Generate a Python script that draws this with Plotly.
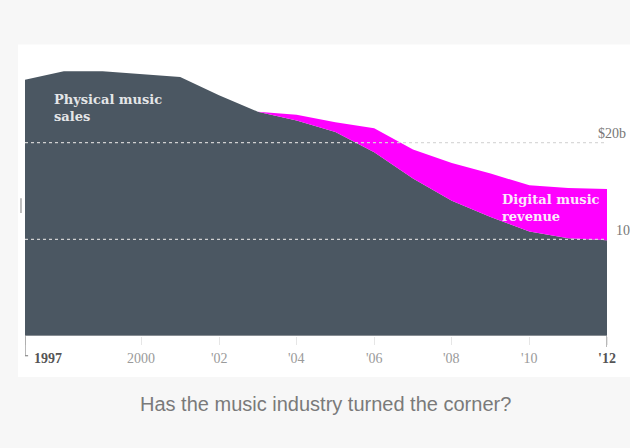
import plotly.graph_objects as go

# ---- data ($bn) ----
years = [1997, 1998, 1999, 2000, 2001, 2002, 2003, 2004, 2005, 2006, 2007, 2008, 2009, 2010, 2011, 2012]
physical = [26.5, 27.4, 27.4, 27.1, 26.8, 24.9, 23.2, 22.3, 21.1, 19.0, 16.3, 14.0, 12.3, 10.8, 10.1, 9.9]
digital_years = [2003, 2004, 2005, 2006, 2007, 2008, 2009, 2010, 2011, 2012]
digital = [0.0, 0.6, 1.0, 2.5, 3.0, 3.9, 4.5, 4.8, 5.2, 5.3]

tick_years = [1997, 2000, 2002, 2004, 2006, 2008, 2010, 2012]
tick_labels = ["1997", "2000", "'02", "'04", "'06", "'08", "'10", "'12"]
grid_values = [10, 20]
grid_labels = ["10", "$20b"]

GRAY = "#4b5762"
MAGENTA = "#ff00ff"
SERIF = "DejaVu Serif"

fig = go.Figure()
fig.add_trace(go.Scatter(
    x=years, y=physical, stackgroup="music", mode="lines",
    line=dict(width=0, color=GRAY), fillcolor=GRAY, hoverinfo="skip",
    name="Physical music sales"))
fig.add_trace(go.Scatter(
    x=digital_years, y=digital, stackgroup="music", mode="lines",
    line=dict(width=0, color=MAGENTA), fillcolor=MAGENTA, hoverinfo="skip",
    name="Digital music revenue"))

shapes = []
# white panel behind the chart
shapes.append(dict(type="rect", xref="paper", yref="paper",
                   x0=-0.012, x1=1.06, y0=-0.141, y1=1.005,
                   fillcolor="white", line=dict(width=0), layer="below"))
# small stray mark at the left edge of the panel
shapes.append(dict(type="line", xref="paper", yref="paper", x0=-0.0069, x1=-0.0069,
                   y0=0.424, y1=0.475, line=dict(color="#a9a9a9", width=1.5), layer="above"))
# dotted gridlines above the areas
for g in grid_values:
    shapes.append(dict(type="line", xref="x", yref="y", x0=years[0], x1=years[-1],
                       y0=g, y1=g, line=dict(color="rgba(215,215,215,0.95)", width=1.2, dash="dot"),
                       layer="above"))
# baseline
shapes.append(dict(type="line", xref="x", yref="y", x0=years[0], x1=2012.7, y0=0, y1=0,
                   line=dict(color="#c4c4c4", width=1), layer="above"))
# end ticks
shapes.append(dict(type="line", xref="x", yref="paper", x0=years[0], x1=years[0],
                   y0=0, y1=-0.068, line=dict(color="#8a8a8a", width=1.2), layer="above"))
shapes.append(dict(type="line", xref="x", yref="paper", x0=years[0], x1=years[0] + 0.08,
                   y0=-0.068, y1=-0.068, line=dict(color="#8a8a8a", width=1.2), layer="above"))
shapes.append(dict(type="line", xref="x", yref="paper", x0=years[-1], x1=years[-1],
                   y0=0, y1=-0.038, line=dict(color="#8a8a8a", width=1.2), layer="above"))

annotations = []
for yr, lab in zip(tick_years, tick_labels):
    bold = lab in ("1997", "'12")
    annotations.append(dict(
        x=yr, xref="x", y=-0.078, yref="paper",
        text=f"<b>{lab}</b>" if bold else lab, showarrow=False,
        xanchor="left" if yr == tick_years[0] else "center", yanchor="middle",
        xshift=7 if yr == tick_years[0] else 0,
        font=dict(family="Liberation Serif", size=14, color="#555555" if bold else "#9a9a9a")))
for g, lab, xp, ys in zip(grid_values, grid_labels, [1.0125, 0.981], [-1, 0]):
    annotations.append(dict(x=xp, xref="paper", y=g, yref="y", text=lab, showarrow=False,
                            xanchor="left", yanchor="bottom", yshift=ys,
                            font=dict(family="Liberation Serif", size=14, color="#777777")))
annotations.append(dict(x=0.046, xref="paper", y=0.85, yref="paper",
                        text="<b>Physical music<br>sales</b>", showarrow=False,
                        xanchor="left", yanchor="top", align="left",
                        font=dict(family=SERIF, size=13, color="#e4e6e8")))
annotations.append(dict(x=0.817, xref="paper", y=0.505, yref="paper",
                        text="<b>Digital music<br>revenue</b>", showarrow=False,
                        xanchor="left", yanchor="top", align="left",
                        font=dict(family=SERIF, size=13, color="#fbeafb")))
annotations.append(dict(x=0.516, xref="paper", y=-0.234, yref="paper",
                        text="Has the music industry turned the corner?", showarrow=False,
                        xanchor="center", yanchor="middle",
                        font=dict(family="Liberation Sans", size=20, color="#7a7a7a")))

fig.update_layout(
    width=630, height=448,
    margin=dict(l=25, r=23, t=46, b=112),
    paper_bgcolor="#f7f7f7", plot_bgcolor="white",
    showlegend=False,
    shapes=shapes, annotations=annotations,
    xaxis=dict(range=[years[0], years[-1]], showgrid=False, zeroline=False, showline=False,
               tickvals=tick_years, showticklabels=False, ticks="outside", ticklen=8,
               tickcolor="#e6e6e6", fixedrange=True),
    yaxis=dict(range=[0, 30], showgrid=False, zeroline=False, showline=False,
               showticklabels=False, fixedrange=True),
)

fig.write_html(
    "out.html",
    config={"displayModeBar": False},
    post_script="document.body.style.margin='0';document.body.style.overflow='hidden';"
                "document.body.style.background='#f7f7f7';",
)
